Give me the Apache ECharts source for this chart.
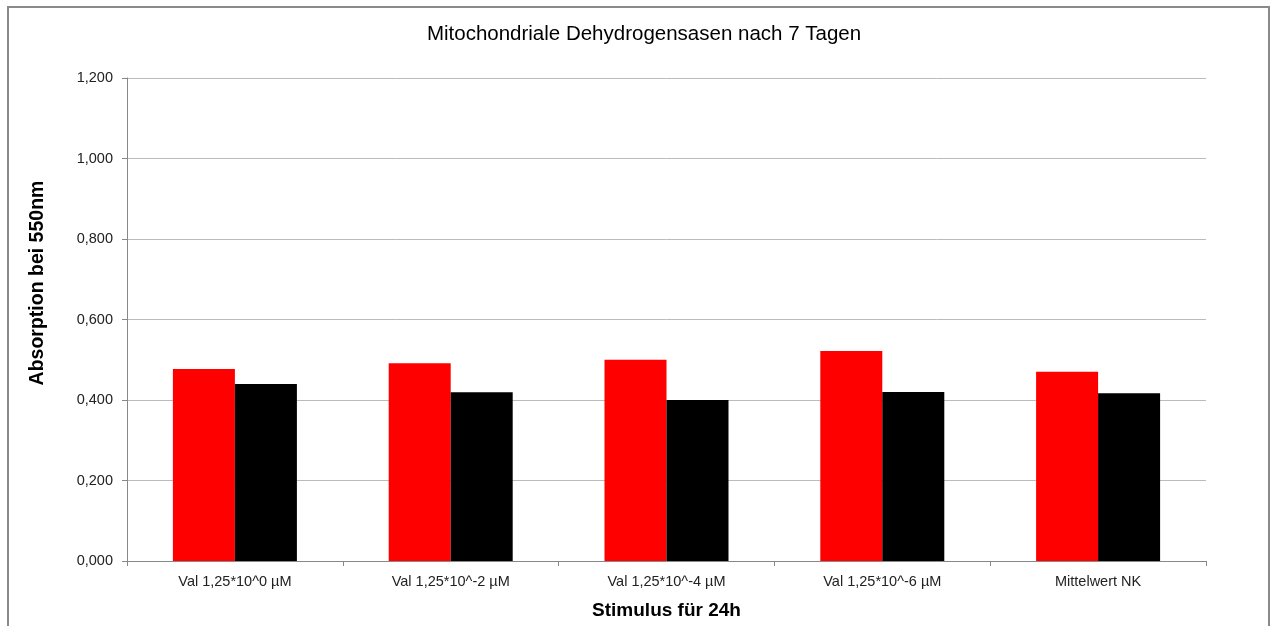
<!DOCTYPE html>
<html>
<head>
<meta charset="utf-8">
<script src="https://cdn.jsdelivr.net/npm/echarts@6/dist/echarts.min.js"></script>
<style>
  html, body { margin: 0; padding: 0; background: #fff; }
  #chart { width: 1273px; height: 626px; }
</style>
</head>
<body>
<div id="chart"></div>
<script>
  // Kategorien und Werte
  var categories = ['Val 1,25*10^0 µM', 'Val 1,25*10^-2 µM', 'Val 1,25*10^-4 µM', 'Val 1,25*10^-6 µM', 'Mittelwert NK'];
  var redValues = [0.477, 0.491, 0.500, 0.522, 0.470];
  var blackValues = [0.440, 0.419, 0.400, 0.420, 0.417];
  var yTicks = [0, 0.2, 0.4, 0.6, 0.8, 1.0, 1.2];

  var font = '"Liberation Sans", sans-serif';

  var myChart = echarts.init(document.getElementById('chart'));
  myChart.setOption({
    animation: false,
    backgroundColor: '#fff',
    title: {
      text: 'Mitochondriale Dehydrogensasen nach 7 Tagen',
      left: 639,
      textAlign: 'center',
      top: 19,
      textStyle: { fontFamily: font, fontSize: 20.5, fontWeight: 'normal', color: '#000' }
    },
    grid: { left: 127, right: 67, top: 78, bottom: 65, containLabel: false, outerBoundsMode: 'none' },
    xAxis: {
      type: 'category',
      data: categories,
      name: 'Stimulus für 24h',
      nameLocation: 'middle',
      nameGap: 40,
      nameTextStyle: { fontFamily: font, fontSize: 19, fontWeight: 'bold', color: '#000' },
      axisLine: { lineStyle: { color: '#888', width: 1 } },
      axisTick: { show: true, length: 5, lineStyle: { color: '#888' } },
      axisLabel: { fontFamily: font, fontSize: 14.5, color: '#222', margin: 13 }
    },
    yAxis: {
      type: 'value',
      min: yTicks[0],
      max: yTicks[yTicks.length - 1],
      interval: 0.2,
      axisLine: { show: true, lineStyle: { color: '#888', width: 1 } },
      axisTick: { show: true, length: 5, inside: false, lineStyle: { color: '#888' } },
      axisLabel: {
        fontFamily: font, fontSize: 14.5, color: '#222', margin: 14,
        formatter: function (v) { return v.toFixed(3).replace('.', ','); }
      },
      splitLine: { lineStyle: { color: '#bbb', width: 1 } }
    },
    series: [
      {
        name: 'rot',
        type: 'bar',
        data: redValues,
        barWidth: 62,
        barGap: '0%',
        itemStyle: { color: '#ff0000' }
      },
      {
        name: 'schwarz',
        type: 'bar',
        data: blackValues,
        barWidth: 62,
        itemStyle: { color: '#000000' }
      }
    ],
    graphic: [
      {
        type: 'rect',
        shape: { x: 8, y: 7, width: 1261, height: 640 },
        style: { fill: 'none', stroke: '#8a8a8a', lineWidth: 2 },
        silent: true
      },
      {
        type: 'text',
        x: 38,
        y: 283,
        rotation: Math.PI / 2,
        style: {
          text: 'Absorption bei 550nm',
          fontFamily: font, fontSize: 19.5, fontWeight: 'bold', fill: '#000',
          align: 'center', verticalAlign: 'middle'
        }
      }
    ]
  });
</script>
</body>
</html>
